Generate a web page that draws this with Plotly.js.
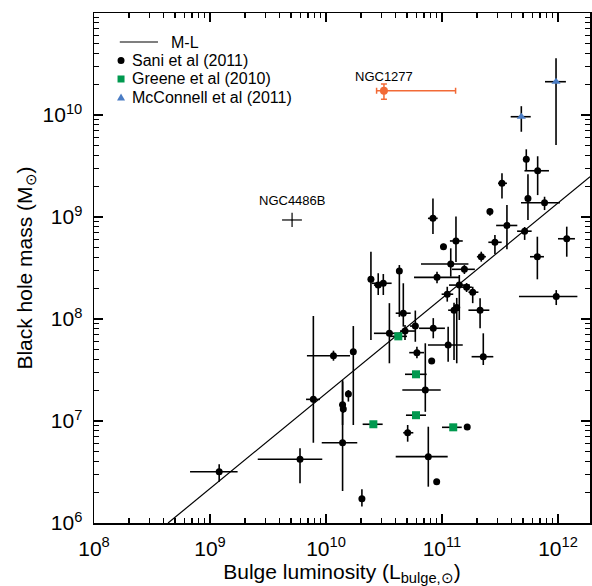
<!DOCTYPE html>
<html>
<head>
<meta charset="utf-8">
<script src="https://cdn.plot.ly/plotly-3.0.1.min.js"></script>
<style>html,body{margin:0;padding:0;background:#fff;}#chart{width:592px;height:586px;}</style>
</head>
<body>
<div id="chart"></div>
<script>
// ---- Sani et al (2011): bulge luminosity (L_sun) and black hole mass (M_sun) with error ranges
const saniL   = [5.33e11,6.68e11,3.29e11,5.51e11,7.66e11,2.59e11,3.63e11,5.16e11,1.19e12,6.64e11,9.66e11,2.86e11,2.18e11,8.36e10,1.03e11,1.32e11,1.19e11,1.56e11,1.41e11,1.63e11,1.84e11,1.11e11,1.27e11,1.34e11,2.13e11,1.13e11,2.27e11,9.06e10,4.29e10,4.64e10,2.44e10,2.82e10,3.12e10,3.52e10,4.80e10,5.89e10,8.41e10,6.08e10,8.15e10,1.16e10,1.72e10,1.20e9,5.97e9,7.78e9,1.39e10,1.41e10,1.56e10,1.39e10,2.04e10,7.18e10,5.06e10,7.62e10,9.00e10,1.65e11];
const saniLlo = [5.33e11,5.14e11,3.04e11,5.51e11,4.80e11,2.59e11,2.93e11,4.44e11,1.00e12,5.74e11,4.61e11,2.51e11,2.00e11,7.57e10,9.68e10,1.17e11,6.59e10,1.22e11,1.15e11,1.49e11,1.69e11,9.93e10,1.13e11,1.34e11,1.69e11,7.57e10,1.80e11,5.74e10,4.29e10,3.99e10,2.44e10,2.59e10,2.48e10,2.59e10,4.35e10,5.30e10,6.34e10,5.22e10,8.15e10,6.85e9,1.72e10,6.73e8,2.58e9,6.73e9,1.30e10,1.41e10,1.56e10,9.19e9,2.04e10,4.55e10,4.63e10,3.99e10,9.00e10,1.65e11];
const saniLhi = [5.33e11,8.36e11,3.63e11,5.51e11,1.04e12,2.59e11,4.46e11,5.93e11,1.40e12,7.57e11,1.47e12,3.27e11,2.39e11,9.18e10,1.09e11,1.51e11,1.69e11,1.92e11,1.74e11,1.81e11,2.06e11,1.25e11,1.43e11,1.34e11,2.56e11,1.51e11,2.77e11,1.43e11,4.29e10,5.37e10,2.44e10,3.10e10,3.68e10,4.29e10,5.85e10,6.25e10,1.06e11,7.00e10,8.15e10,1.61e10,1.72e10,1.73e9,9.29e9,8.87e9,1.48e10,1.41e10,1.56e10,1.86e10,2.04e10,9.75e10,5.66e10,1.12e11,9.00e10,1.65e11];
const saniM   = [3.68e9,2.84e9,2.14e9,1.52e9,1.38e9,1.13e9,8.26e8,7.26e8,6.12e8,4.08e8,1.66e8,5.65e8,4.08e8,9.70e8,5.12e8,5.82e8,3.46e8,3.07e8,2.15e8,2.05e8,1.83e8,1.75e8,1.22e8,1.30e8,1.22e8,5.56e7,4.27e7,2.56e8,2.96e8,1.14e8,2.45e8,2.15e8,2.24e8,7.24e7,7.62e7,8.53e7,8.11e7,4.68e7,3.87e7,4.36e7,4.78e7,3.18e6,4.22e6,1.63e7,1.44e7,1.31e7,1.84e7,6.12e6,1.73e6,2.01e7,7.67e6,4.47e6,2.54e6,8.73e6];
const saniMlo = [2.89e9,1.64e9,1.52e9,9.35e8,1.17e9,1.03e9,4.82e8,5.96e8,4.08e8,2.45e8,1.37e8,4.34e8,3.65e8,6.81e8,4.78e8,3.62e8,2.60e8,2.76e8,9.77e7,1.84e8,1.43e8,1.48e8,3.96e7,3.68e7,8.11e7,3.81e7,3.54e7,2.24e8,1.05e8,8.41e7,6.22e7,1.72e8,1.72e8,3.68e7,6.22e7,5.98e7,6.47e7,4.12e7,3.87e7,3.90e7,9.14e6,2.54e6,2.45e6,6.12e6,9.14e6,1.20e7,1.55e7,2.06e6,1.45e6,1.23e7,6.27e6,2.27e6,2.54e6,8.73e6];
const saniMhi = [4.61e9,3.94e9,2.68e9,2.63e9,1.58e9,1.20e9,1.31e9,7.98e8,8.04e8,6.41e8,1.92e8,6.67e8,4.57e8,1.52e9,5.47e8,1.01e9,4.93e8,3.38e8,2.70e8,2.25e8,2.07e8,2.07e8,1.44e8,1.61e8,1.60e8,8.41e7,7.24e7,2.91e8,3.38e8,2.24e8,4.57e8,2.81e8,2.76e8,1.43e8,8.73e7,1.21e8,1.02e8,5.35e7,3.87e7,4.89e7,8.53e7,3.76e6,5.40e6,1.07e8,2.52e7,1.44e7,2.01e7,2.43e7,2.14e6,5.78e7,9.14e6,8.79e6,2.54e6,8.73e6];

// ---- Greene et al (2010)
const greeneL   = [4.20e10,5.97e10,5.97e10,2.56e10,1.25e11];
const greeneLlo = [3.56e10,4.80e10,4.89e10,2.07e10,1.00e11];
const greeneLhi = [4.99e10,7.38e10,7.28e10,3.08e10,1.48e11];
const greeneM   = [6.76e7,2.87e7,1.14e7,9.29e6,8.67e6];

// ---- McConnell et al (2011)
const mcconL   = [9.62e11,4.83e11];
const mcconLlo = [7.73e11,3.91e11];
const mcconLhi = [1.17e12,5.82e11];
const mcconM   = [2.12e10,9.62e9];
const mcconMlo = [5.08e9,6.85e9];
const mcconMhi = [3.60e10,1.22e10];

// ---- NGC1277
const n1277L = [3.16e10], n1277Llo = [2.73e10], n1277Lhi = [1.31e11];
const n1277M = [1.73e10], n1277Mlo = [1.43e10], n1277Mhi = [2.01e10];

// ---- NGC4486B
const n4486L = [5.10e9], n4486Llo = [4.18e9], n4486Lhi = [6.20e9];
const n4486M = [9.35e8], n4486Mlo = [7.98e8], n4486Mhi = [1.10e9];

// ---- M-L relation endpoints
const mlL = [4.35e8, 1.89e12];
const mlM = [1.0e6, 2.48e9];

// legend labels
const legendNames = ['M-L', 'Sani et al (2011)', 'Greene et al (2010)', 'McConnell et al (2011)'];

// tick labels
const decadeX = [1e8,1e9,1e10,1e11,1e12];
const decadeXText = ['10<sup>8</sup>','10<sup>9</sup>','10<sup>10</sup>','10<sup>11</sup>','10<sup>12</sup>'];
const decadeY = [1e6,1e7,1e8,1e9,1e10,1e11];
const decadeYText = ['10<sup>6</sup>','10<sup>7</sup>','10<sup>8</sup>','10<sup>9</sup>','10<sup>10</sup>','10<sup>11</sup>'];

const COL_GREEN = '#00994f', COL_BLUE = '#4a7cc4', COL_ORANGE = '#f26a36';

function plus(c, hi){ return c.map((v,i)=>hi[i]-v); }
function minus(c, lo){ return c.map((v,i)=>v-lo[i]); }
function minorVals(d0, d1){ const o=[]; for(let d=d0; d<=d1; d++){ for(let k=2;k<=9;k++){ o.push(k*Math.pow(10,d)); } } return o; }

const FONT = 'Liberation Sans, Arial, Helvetica, sans-serif';
const errStyle = {type:'data', symmetric:false, thickness:1.6, width:0, color:'#000'};

const traces = [
  {x: mlL, y: mlM, mode:'lines', name:legendNames[0], showlegend:false, line:{color:'#000', width:1.2}, hoverinfo:'skip'},
  {x: saniL, y: saniM, mode:'markers', name:legendNames[1], showlegend:false,
   marker:{symbol:'circle', size:7, color:'#000'},
   error_x: Object.assign({array: plus(saniL,saniLhi), arrayminus: minus(saniL,saniLlo)}, errStyle),
   error_y: Object.assign({array: plus(saniM,saniMhi), arrayminus: minus(saniM,saniMlo)}, errStyle)},
  {x: greeneL, y: greeneM, mode:'markers', name:legendNames[2], showlegend:false,
   marker:{symbol:'square', size:8, color:COL_GREEN},
   error_x: Object.assign({array: plus(greeneL,greeneLhi), arrayminus: minus(greeneL,greeneLlo)}, errStyle)},
  {x: mcconL, y: mcconM, mode:'markers', name:legendNames[3], showlegend:false,
   marker:{symbol:'triangle-up', size:8, color:COL_BLUE},
   error_x: Object.assign({array: plus(mcconL,mcconLhi), arrayminus: minus(mcconL,mcconLlo)}, errStyle),
   error_y: Object.assign({array: plus(mcconM,mcconMhi), arrayminus: minus(mcconM,mcconMlo)}, errStyle)},
  {x: n1277L, y: n1277M, mode:'markers', name:'NGC1277', showlegend:false,
   marker:{symbol:'circle', size:8, color:COL_ORANGE},
   error_x: {type:'data', symmetric:false, array: plus(n1277L,n1277Lhi), arrayminus: minus(n1277L,n1277Llo), thickness:1.5, width:3, color:COL_ORANGE},
   error_y: {type:'data', symmetric:false, array: plus(n1277M,n1277Mhi), arrayminus: minus(n1277M,n1277Mlo), thickness:1.5, width:3, color:COL_ORANGE}},
  {x: n4486L, y: n4486M, mode:'markers', name:'NGC4486B', showlegend:false,
   marker:{symbol:'circle', size:1, color:'#000'},
   error_x: {type:'data', symmetric:false, array: plus(n4486L,n4486Lhi), arrayminus: minus(n4486L,n4486Llo), thickness:1.2, width:0, color:'#000'},
   error_y: {type:'data', symmetric:false, array: plus(n4486M,n4486Mhi), arrayminus: minus(n4486M,n4486Mlo), thickness:1.2, width:0, color:'#000'}}
];

const axisCommon = {
  type:'log', showgrid:false, zeroline:false, showline:true, linecolor:'#000', linewidth:1.5,
  ticks:'inside', ticklen:9, tickwidth:1.3, tickcolor:'#000', mirror:'allticks',
  tickmode:'array', tickfont:{family:FONT, size:21, color:'#000'}, ticklabelstandoff:6
};

// legend box (paper coordinates inside the plot area)
const LG = {lineX0:0.052, lineX1:0.129, textMLx:0.153, symX:0.0545, textX:0.0746, rows:[0.9431, 0.9069, 0.8706, 0.8343]};
const legendFont = {family:FONT, size:16, color:'#000'};

const shapes = [
  {type:'line', xref:'paper', yref:'paper', x0:LG.lineX0, x1:LG.lineX1, y0:LG.rows[0], y1:LG.rows[0], line:{color:'#000', width:1.2}},
  {type:'circle', xref:'paper', yref:'paper', xsizemode:'pixel', ysizemode:'pixel', xanchor:LG.symX, yanchor:LG.rows[1],
   x0:-3.5, x1:3.5, y0:-3.5, y1:3.5, fillcolor:'#000', line:{width:0}},
  {type:'rect', xref:'paper', yref:'paper', xsizemode:'pixel', ysizemode:'pixel', xanchor:LG.symX, yanchor:LG.rows[2],
   x0:-3.5, x1:3.5, y0:-3.5, y1:3.5, fillcolor:COL_GREEN, line:{width:0}},
  {type:'path', xref:'paper', yref:'paper', xsizemode:'pixel', ysizemode:'pixel', xanchor:LG.symX, yanchor:LG.rows[3],
   path:'M -4 -3 L 4 -3 L 0 4 Z', fillcolor:COL_BLUE, line:{width:0}}
];

const legendAnn = (x, y, txt) => ({x:x, y:y, xref:'paper', yref:'paper', xanchor:'left', yanchor:'middle',
  text:txt, showarrow:false, font:legendFont, borderpad:0});

const annotations = [
  {x:Math.log10(n1277L[0]), y:Math.log10(n1277M[0]), xref:'x', yref:'y', text:'NGC1277', showarrow:false,
   yshift:14, font:{family:FONT, size:13, color:'#000'}},
  {x:Math.log10(n4486L[0]), y:Math.log10(n4486M[0]), xref:'x', yref:'y', text:'NGC4486B', showarrow:false,
   yshift:19, font:{family:FONT, size:13, color:'#000'}},
  legendAnn(LG.textMLx, LG.rows[0], legendNames[0]),
  legendAnn(LG.textX, LG.rows[1], legendNames[1]),
  legendAnn(LG.textX, LG.rows[2], legendNames[2]),
  legendAnn(LG.textX, LG.rows[3], legendNames[3])
];

const layout = {
  width:592, height:586,
  margin:{l:94, r:2, t:13, b:63},
  paper_bgcolor:'#fff', plot_bgcolor:'#fff',
  font:{family:FONT, color:'#000'},
  showlegend:false,
  xaxis: Object.assign({}, axisCommon, {
    range:[8, 12.276], tickvals:decadeX, ticktext:decadeXText,
    minor:{ticks:'inside', ticklen:5, tickwidth:1.2, tickcolor:'#000', tickmode:'array', tickvals:minorVals(8,12), showgrid:false},
    title:{text:'Bulge luminosity (L<sub>bulge,⊙</sub>)', font:{family:FONT, size:21, color:'#000'}, standoff:2}
  }),
  yaxis: Object.assign({}, axisCommon, {
    range:[6, 11], tickvals:decadeY, ticktext:decadeYText,
    minor:{ticks:'inside', ticklen:5, tickwidth:1.2, tickcolor:'#000', tickmode:'array', tickvals:minorVals(6,10), showgrid:false},
    title:{text:'Black hole mass (M<sub>⊙</sub>)', font:{family:FONT, size:21, color:'#000'}, standoff:4}
  }),
  shapes: shapes,
  annotations: annotations
};

Plotly.newPlot('chart', traces, layout, {displayModeBar:false, staticPlot:true});
</script>
</body>
</html>
